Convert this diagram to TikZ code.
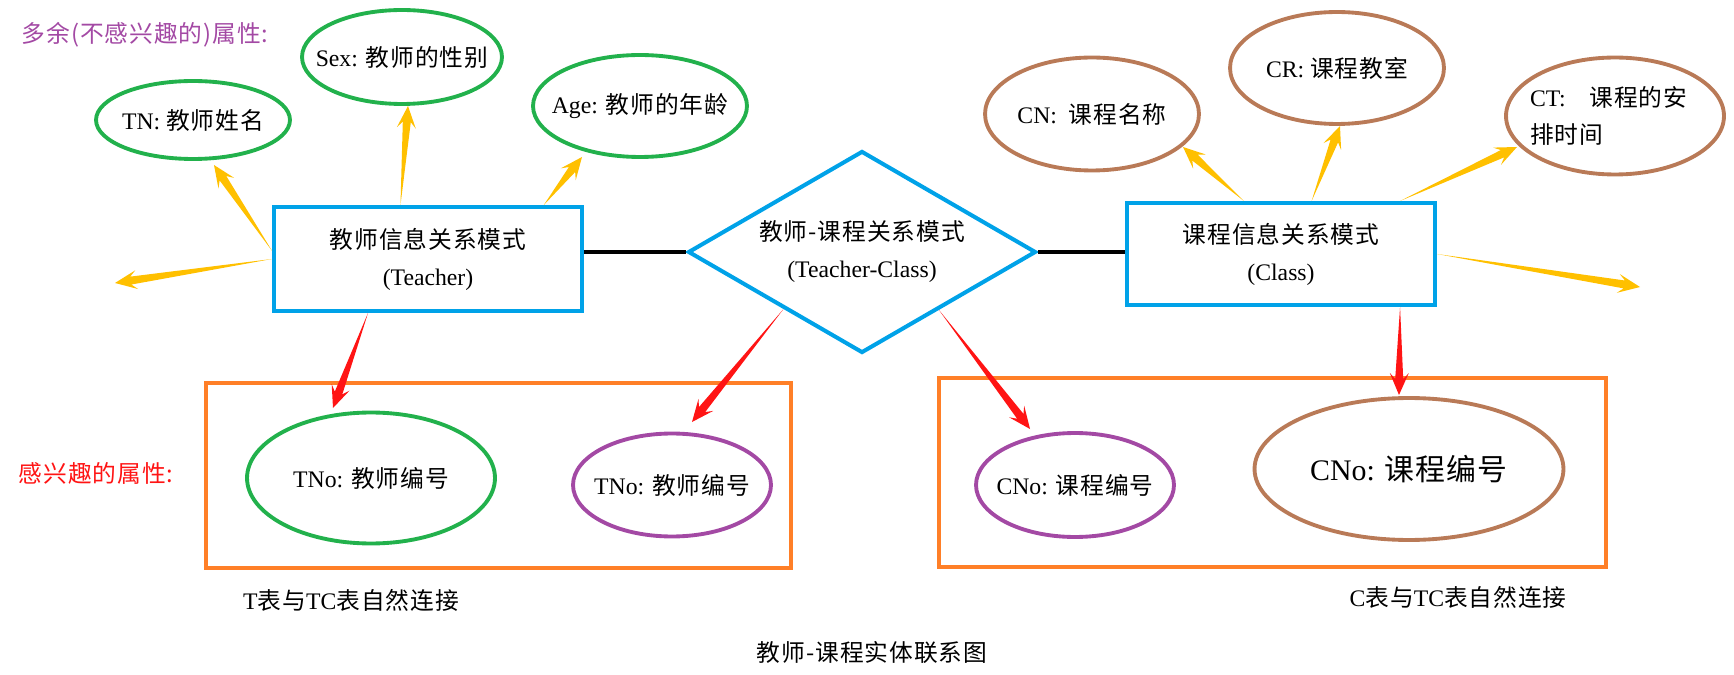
\documentclass[tikz,border=0pt]{standalone}
\usepackage{fontspec}
\setmainfont{Liberation Serif}
\newfontfamily\cjk[LetterSpace=4]{Noto Sans CJK SC}
\usetikzlibrary{shapes.geometric,calc}

\definecolor{erblue}{RGB}{0,162,232}
\definecolor{ergreen}{RGB}{34,177,76}
\definecolor{erbrown}{RGB}{185,122,87}
\definecolor{erpurple}{RGB}{163,73,164}
\definecolor{erorange}{RGB}{255,127,39}
\definecolor{eryellow}{RGB}{255,192,0}
\definecolor{erred}{RGB}{255,20,20}

% tapered arrow: colour, start, tip
\newcommand\wedgearrow[3]{%
  \coordinate (wa-n) at ($(#3)!0.32cm!(#2)$);
  \coordinate (wa-b) at ($(#3)!0.44cm!(#2)$);
  \fill[#1] (#2) -- ($(wa-n)!0.08cm!90:(#3)$) -- ($(wa-b)!0.19cm!90:(#3)$) -- (#3)
    -- ($(wa-b)!0.19cm!-90:(#3)$) -- ($(wa-n)!0.08cm!-90:(#3)$) -- cycle;}

\begin{document}
\begin{tikzpicture}[x=0.02cm, y=-0.02cm,
    font=\fontsize{13.5}{21}\selectfont,
    entity/.style ={rectangle, draw=erblue, line width=2.3pt, minimum width=6.16cm, minimum height=2.08cm, align=center},
    linkset/.style ={diamond, draw=erblue, line width=2.3pt, minimum width=6.96cm, minimum height=4.04cm, aspect=1.72, inner sep=0pt, align=center},
    attribute/.style ={ellipse, line width=2.2pt, inner xsep=-0.45cm, inner ysep=0pt, align=center},
    frame/.style ={draw=erorange, line width=2.3pt},
    joinline/.style ={draw=black, line width=1.8pt},
    note/.style ={inner sep=0pt}]
   \useasboundingbox (0,0) rectangle (1734,675);

   \node[entity] (teacher) at (428,259) {{\cjk 教师信息关系模式}\\(Teacher)};
   \node[entity, minimum height=2.04cm] (class) at (1281,254) {{\cjk 课程信息关系模式}\\(Class)};
   \node[linkset] (tc) at (862,252) {{\cjk 教师-课程关系模式}\\(Teacher-Class)};

   \node[attribute, draw=ergreen, minimum width=3.88cm, minimum height=1.56cm] (tn) at (193,120) {TN: {\cjk 教师姓名}};
   \node[attribute, draw=ergreen, minimum width=4cm, minimum height=1.88cm] (sex) at (402,57) {Sex: {\cjk 教师的性别}};
   \node[attribute, draw=ergreen, minimum width=4.28cm, minimum height=2.04cm] (age) at (640,106) {Age: {\cjk 教师的年龄}};
   \node[attribute, draw=erbrown, minimum width=4.28cm, minimum height=2.26cm] (cn) at (1092,114) {CN:\enspace{\cjk 课程名称}};
   \node[attribute, draw=erbrown, minimum width=4.28cm, minimum height=2.24cm] (cr) at (1337,68) {CR: {\cjk 课程教室}};
   \node[attribute, draw=erbrown, minimum width=4.36cm, minimum height=2.34cm, text width=3.4cm, align=left] (ct) at (1615,116) {CT:\quad{\cjk 课程的安}\\{\cjk 排时间}};

   \draw[frame] (206,383) rectangle (791,568);
   \draw[frame] (939,378) rectangle (1606,567);

   \node[attribute, draw=ergreen, minimum width=4.96cm, minimum height=2.62cm] (tnoT) at (371,478) {TNo: {\cjk 教师编号}};
   \node[attribute, draw=erpurple, minimum width=3.96cm, minimum height=2.06cm] (tnoTC) at (672,485) {TNo: {\cjk 教师编号}};
   \node[attribute, draw=erpurple, minimum width=3.96cm, minimum height=2.08cm] (cnoTC) at (1075,485) {CNo: {\cjk 课程编号}};
   \node[attribute, draw=erbrown, minimum width=6.18cm, minimum height=2.84cm, font=\fontsize{17}{21}\selectfont] (cnoC) at (1409,469) {CNo: {\cjk 课程编号}};

   \node[note, text=erpurple] (extra) at (145,35) {\cjk 多余(不感兴趣的)属性:};
   \node[note, text=erred] (wanted) at (96,473) {\cjk 感兴趣的属性:};
   \node[note] (tjoin) at (351,600) {T{\cjk 表与}TC{\cjk 表自然连接}};
   \node[note] (cjoin) at (1458,597) {C{\cjk 表与}TC{\cjk 表自然连接}};
   \node[note] (caption) at (872,652) {\cjk 教师-课程实体联系图};

   \draw[joinline] (tc.west -| teacher.east) -- (tc.west);
   \draw[joinline] (tc.east) -- (tc.east -| class.west);

   % arrow tips
   \coordinate (tn-tip) at (214,165);
   \coordinate (sex-tip) at (408,106);
   \coordinate (age-tip) at (582,157);
   \coordinate (tleft-tip) at (115,283);
   \coordinate (cn-tip) at (1183,147);
   \coordinate (cr-tip) at (1340,126);
   \coordinate (ct-tip) at (1517,147);
   \coordinate (cright-tip) at (1640,287);
   \coordinate (tnoT-tip) at (333,408);
   \coordinate (tnoTC-tip) at (692,422);
   \coordinate (cnoTC-tip) at (1030,429);
   \coordinate (cnoC-tip) at (1399,395);

   \wedgearrow{eryellow}{teacher.177}{tn-tip}
   \wedgearrow{eryellow}{teacher.117}{sex-tip}
   \wedgearrow{eryellow}{teacher.25}{age-tip}
   \wedgearrow{eryellow}{teacher.west}{tleft-tip}
   \wedgearrow{eryellow}{class.125}{cn-tip}
   \wedgearrow{eryellow}{class.60}{cr-tip}
   \wedgearrow{eryellow}{class.24}{ct-tip}
   \wedgearrow{eryellow}{class.east}{cright-tip}

   \wedgearrow{erred}{teacher.222}{tnoT-tip}
   \wedgearrow{erred}{tc.216}{tnoTC-tip}
   \wedgearrow{erred}{tc.323}{cnoTC-tip}
   \wedgearrow{erred}{class.336}{cnoC-tip}

 \end{tikzpicture}
\end{document}
